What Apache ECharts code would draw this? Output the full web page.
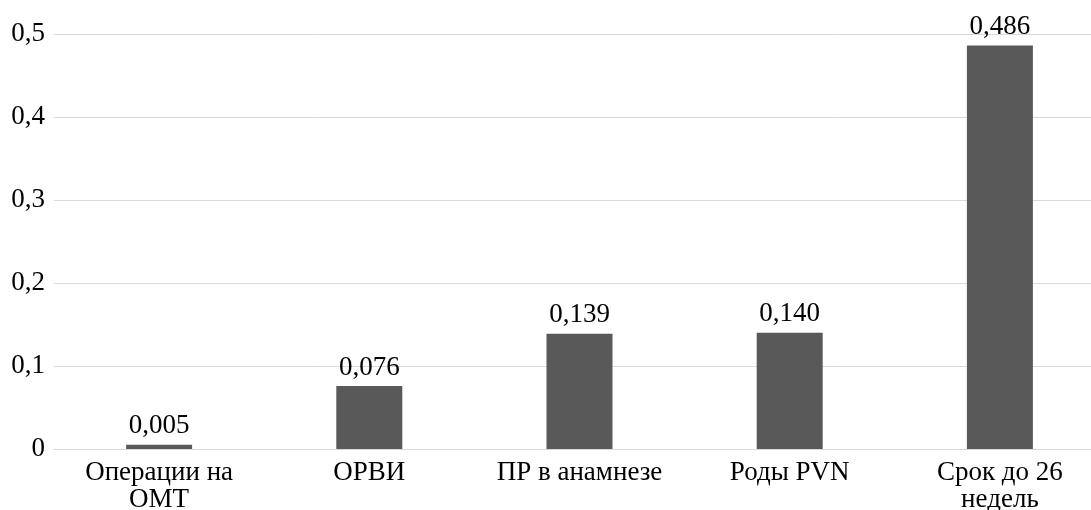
<!DOCTYPE html>
<html><head><meta charset="utf-8">
<script src="https://cdn.jsdelivr.net/npm/echarts@6/dist/echarts.min.js"></script>
<style>html,body{margin:0;padding:0;background:#fff}#c{width:1091px;height:510px}</style>
</head><body><div id="c"></div>
<script>
const categories = ['Операции на\nОМТ', 'ОРВИ', 'ПР в анамнезе', 'Роды PVN', 'Срок до 26\nнедель'];
const values = [0.005, 0.076, 0.139, 0.140, 0.486];
const yTicks = [0, 0.1, 0.2, 0.3, 0.4, 0.5];

const fmt = v => (v === 0 ? '0' : String(+v.toFixed(1)).replace('.', ','));
const chart = echarts.init(document.getElementById('c'));
chart.setOption({
  animation: false,
  textStyle: { fontFamily: 'Liberation Serif' },
  grid: { left: 54, width: 1051, top: 34, height: 415, containLabel: false, outerBoundsMode: 'none' },
  xAxis: {
    type: 'category', data: categories,
    axisLine: { show: true, lineStyle: { color: '#d9d9d9', width: 1 } },
    axisTick: { show: false },
    axisLabel: { color: '#000', fontSize: 27, fontFamily: 'Liberation Serif', lineHeight: 27, margin: 10, interval: 0 }
  },
  yAxis: {
    type: 'value', min: yTicks[0], max: yTicks[yTicks.length - 1], interval: 0.1,
    axisLine: { show: false }, axisTick: { show: false },
    splitLine: { lineStyle: { color: '#d9d9d9', width: 1 } },
    axisLabel: { color: '#000', fontSize: 27, fontFamily: 'Liberation Serif', margin: 9, formatter: fmt }
  },
  series: [{
    type: 'bar', data: values, barWidth: 66,
    itemStyle: { color: '#595959' },
    label: { show: true, position: 'top', distance: 5, color: '#000', fontSize: 27, fontFamily: 'Liberation Serif',
      formatter: p => p.value.toFixed(3).replace('.', ',') }
  }]
});
</script></body></html>
